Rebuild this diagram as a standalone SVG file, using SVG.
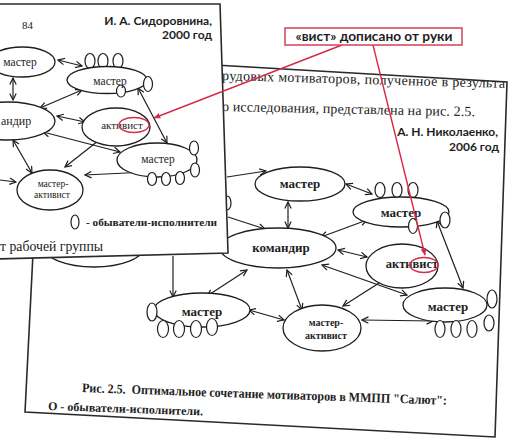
<svg xmlns="http://www.w3.org/2000/svg" width="509" height="438" viewBox="0 0 509 438">
<defs>
<style>
.page{fill:#fff;stroke:#2a2a2a;stroke-width:1.6}
.nd{fill:#fff;stroke:#1e1e1e;stroke-width:1.3}
.ov{fill:#fff;stroke:#1e1e1e;stroke-width:1.2}
.ln{fill:none;stroke:#1e1e1e;stroke-width:1.2}
.dbl{marker-start:url(#ah);marker-end:url(#ah)}
.one{marker-end:url(#ah)}
.red{fill:none;stroke:#d62b48;stroke-width:1.4}
.lb{font-family:"Liberation Serif","Times New Roman",serif;fill:#1e1e1e;text-anchor:middle}
.lbb{font-weight:bold}
.body{font-family:"Liberation Serif","Times New Roman",serif;fill:#222}
.note{font-family:Lato,"Open Sans",sans-serif;font-weight:bold;fill:#1e1e1e}
</style>
<marker id="ah" viewBox="0 0 10 10" refX="9" refY="5" markerWidth="8" markerHeight="8" markerUnits="userSpaceOnUse" orient="auto-start-reverse">
<path d="M1,1 L9,5 L1,9" fill="none" stroke="#1e1e1e" stroke-width="1.5"/>
</marker>
<marker id="rah" viewBox="0 0 10 10" refX="9" refY="5" markerWidth="7" markerHeight="7" markerUnits="userSpaceOnUse" orient="auto">
<path d="M0,1 L10,5 L0,9 Z" fill="#d62b48"/>
</marker>
</defs>
<rect width="509" height="438" fill="#fff"/>

<!-- back page: Nikolaenko 2006 -->
<g id="page-back">
<polygon class="page" points="43,55 507,82 495,437 25,412"/>
<text class="body" x="222" y="80" font-size="14" textLength="283" lengthAdjust="spacing" transform="rotate(1.6 222 80)">рудовых мотиваторов, полученное в результа</text>
<text class="body" x="222" y="111" font-size="14" textLength="253" lengthAdjust="spacing" transform="rotate(1.2 222 111)">о исследования, представлена на рис. 2.5.</text>
<text class="note" x="498" y="136" font-size="12" text-anchor="end">А. Н. Николаенко,</text>
<text class="note" x="499" y="151" font-size="12" text-anchor="end">2006 год</text>
<text class="body" x="82" y="392" font-size="13" font-weight="bold" textLength="365" lengthAdjust="spacingAndGlyphs" transform="rotate(2 82 392)">Рис. 2.5.&#160; Оптимальное сочетание мотиваторов в ММПП "Салют":</text>
<text class="body" x="48" y="410" font-size="12" font-weight="bold" textLength="155" lengthAdjust="spacingAndGlyphs" transform="rotate(2 48 410)">О - обыватели-исполнители.</text>

<g id="back-connectors">
<line class="ln one" x1="227" y1="177" x2="266" y2="171"/>
<line class="ln dbl" x1="288" y1="202" x2="288" y2="228"/>
<line class="ln dbl" x1="346" y1="184" x2="372" y2="194"/>
<line class="ln one" x1="228" y1="217" x2="265" y2="229"/>
<line class="ln dbl" x1="321" y1="237" x2="367" y2="220"/>
<line class="ln dbl" x1="338" y1="250" x2="367" y2="257"/>
<line class="ln dbl" x1="437" y1="221" x2="463" y2="288"/>
<line class="ln dbl" x1="322" y1="265" x2="407" y2="295"/>
<line class="ln dbl" x1="390" y1="276" x2="343" y2="306"/>
<line class="ln dbl" x1="287" y1="270" x2="302" y2="310"/>
<line class="ln dbl" x1="207" y1="296" x2="247" y2="270"/>
<line class="ln one" x1="173" y1="256" x2="173" y2="297"/>
<line class="ln dbl" x1="249" y1="310" x2="284" y2="320"/>
<line class="ln dbl" x1="362" y1="320" x2="433" y2="321"/>
<line class="ln one" x1="150" y1="251" x2="222" y2="250"/>
</g>

<g id="b-master-left">
<ellipse class="nd" cx="94" cy="247" rx="50" ry="20"/>
<ellipse class="ov" cx="227" cy="203" rx="4" ry="7"/>
</g>
<g id="b-master-top">
<ellipse class="nd" cx="300" cy="184" rx="45" ry="17"/>
<text class="lb lbb" x="300" y="188" font-size="13">мастер</text>
</g>
<g id="b-master-upper-right">
<ellipse class="ov" cx="380" cy="190" rx="5" ry="7.5"/>
<ellipse class="ov" cx="397" cy="190" rx="5" ry="7.5"/>
<ellipse class="ov" cx="413" cy="190" rx="5" ry="7.5"/>
<ellipse class="nd" cx="401" cy="212" rx="48" ry="15"/>
<ellipse class="ov" cx="445" cy="220" rx="5" ry="8"/>
<ellipse class="ov" cx="413" cy="226" rx="4.5" ry="7.5"/>
<text class="lb lbb" x="401" y="217" font-size="13">мастер</text>
</g>
<g id="b-komandir">
<ellipse class="nd" cx="278" cy="248" rx="58" ry="20"/>
<text class="lb lbb" x="281" y="252" font-size="13">командир</text>
</g>
<g id="b-aktivist">
<ellipse class="nd" cx="402" cy="266" rx="36" ry="22"/>
<text class="lb lbb" x="412" y="268" font-size="12.5">активист</text>
</g>
<g id="b-master-right">
<ellipse class="nd" cx="445" cy="305" rx="42" ry="17"/>
<ellipse class="ov" cx="492" cy="299" rx="5" ry="9"/>
<ellipse class="ov" cx="440" cy="329" rx="5" ry="8.5"/>
<ellipse class="ov" cx="456" cy="329" rx="5" ry="8.5"/>
<ellipse class="ov" cx="472" cy="329" rx="5" ry="8.5"/>
<ellipse class="ov" cx="489" cy="323" rx="5" ry="8"/>
<text class="lb lbb" x="448" y="311" font-size="13">мастер</text>
</g>
<g id="b-master-bottom-left">
<ellipse class="nd" cx="202" cy="310" rx="48" ry="17"/>
<ellipse class="ov" cx="152" cy="312" rx="5" ry="9"/>
<ellipse class="ov" cx="163" cy="329" rx="5.5" ry="8.5"/>
<ellipse class="ov" cx="179" cy="329" rx="5.5" ry="8.5"/>
<ellipse class="ov" cx="196" cy="329" rx="5.5" ry="8.5"/>
<ellipse class="ov" cx="212" cy="327" rx="5.5" ry="8.5"/>
<text class="lb lbb" x="202" y="316" font-size="13">мастер</text>
</g>
<g id="b-master-aktivist">
<ellipse class="nd" cx="322" cy="328" rx="39" ry="23"/>
<text class="lb lbb" x="326" y="326" font-size="10">мастер-</text>
<text class="lb lbb" x="326" y="339" font-size="10">активист</text>
</g>
</g>

<!-- front page: Sidorovnina 2000 -->
<g id="page-front">
<polygon class="page" points="-5,4 220,4 228,253 -5,259"/>
<text class="body" x="22" y="29" font-size="11">84</text>
<text class="note" x="212" y="25" font-size="12" text-anchor="end">И. А. Сидоровнина,</text>
<text class="note" x="212" y="38.5" font-size="12" text-anchor="end">2000 год</text>
<text class="body" x="0" y="251" font-size="15" textLength="103" lengthAdjust="spacingAndGlyphs">т рабочей группы</text>

<g id="front-connectors">
<line class="ln dbl" x1="58" y1="60" x2="82" y2="66"/>
<line class="ln dbl" x1="13" y1="78" x2="13" y2="100"/>
<line class="ln dbl" x1="40" y1="108" x2="82" y2="90"/>
<line class="ln dbl" x1="57" y1="116" x2="85" y2="122"/>
<line class="ln dbl" x1="43" y1="132" x2="120" y2="152"/>
<line class="ln dbl" x1="13" y1="140" x2="32" y2="173"/>
<line class="ln dbl" x1="103" y1="137" x2="65" y2="167"/>
<line class="ln dbl" x1="138" y1="88" x2="167" y2="143"/>
<line class="ln dbl" x1="85" y1="175" x2="147" y2="172"/>
<line class="ln one" x1="0" y1="180" x2="16" y2="182"/>
</g>

<g id="f-master-top-left">
<ellipse class="nd" cx="22" cy="62" rx="33" ry="15"/>
<text class="lb" x="20" y="66" font-size="11.5">мастер</text>
</g>
<g id="f-master-top">
<ellipse class="ov" cx="90" cy="61" rx="5" ry="7.5"/>
<ellipse class="ov" cx="103" cy="61" rx="5" ry="7.5"/>
<ellipse class="ov" cx="118" cy="61" rx="5" ry="7.5"/>
<ellipse class="nd" cx="107" cy="80" rx="40" ry="13.5"/>
<ellipse class="ov" cx="148" cy="84" rx="4.5" ry="7.5"/>
<ellipse class="ov" cx="121" cy="91" rx="4.5" ry="6"/>
<text class="lb" x="110" y="85" font-size="11.5">мастер</text>
</g>
<g id="f-komandir">
<ellipse class="nd" cx="8" cy="121" rx="47" ry="19"/>
<text class="lb" x="1" y="125" font-size="12" style="text-anchor:start">андир</text>
</g>
<g id="f-aktivist">
<ellipse class="nd" cx="116" cy="127" rx="34" ry="19"/>
<text class="lb" x="122" y="129" font-size="11">активист</text>
</g>
<g id="f-master-right">
<ellipse class="nd" cx="157" cy="160" rx="40" ry="17"/>
<ellipse class="ov" cx="194" cy="148" rx="4.5" ry="7"/>
<ellipse class="ov" cx="195" cy="170" rx="4.5" ry="7"/>
<ellipse class="ov" cx="152" cy="179" rx="4.5" ry="6.5"/>
<ellipse class="ov" cx="166" cy="179" rx="4.5" ry="6.5"/>
<ellipse class="ov" cx="180" cy="178" rx="4.5" ry="6.5"/>
<text class="lb" x="158" y="163" font-size="11.5">мастер</text>
</g>
<g id="f-master-aktivist">
<ellipse class="nd" cx="50" cy="190" rx="33" ry="20"/>
<text class="lb" x="53" y="187" font-size="9.5">мастер-</text>
<text class="lb" x="52" y="198" font-size="9.5">активист</text>
</g>
<g id="f-legend">
<ellipse class="ov" cx="75" cy="222" rx="4" ry="7"/>
<text class="body" x="86" y="226" font-size="11" font-weight="bold" textLength="131" lengthAdjust="spacingAndGlyphs">- обыватели-исполнители</text>
</g>
</g>

<!-- red annotation -->
<g id="annotation">
<line class="red" x1="342" y1="45" x2="154" y2="118" marker-end="url(#rah)"/>
<line class="red" x1="373" y1="45" x2="425" y2="255" marker-end="url(#rah)"/>
<ellipse class="red" cx="134" cy="125" rx="15" ry="7.5"/>
<ellipse class="red" cx="424" cy="265" rx="14" ry="7.5"/>
<rect x="285" y="28" width="177" height="17" fill="#fff" stroke="#d0405c" stroke-width="1.5"/>
<text class="note" x="374" y="41" font-size="12.5" text-anchor="middle" textLength="157" lengthAdjust="spacingAndGlyphs">«вист» дописано от руки</text>
</g>
</svg>
